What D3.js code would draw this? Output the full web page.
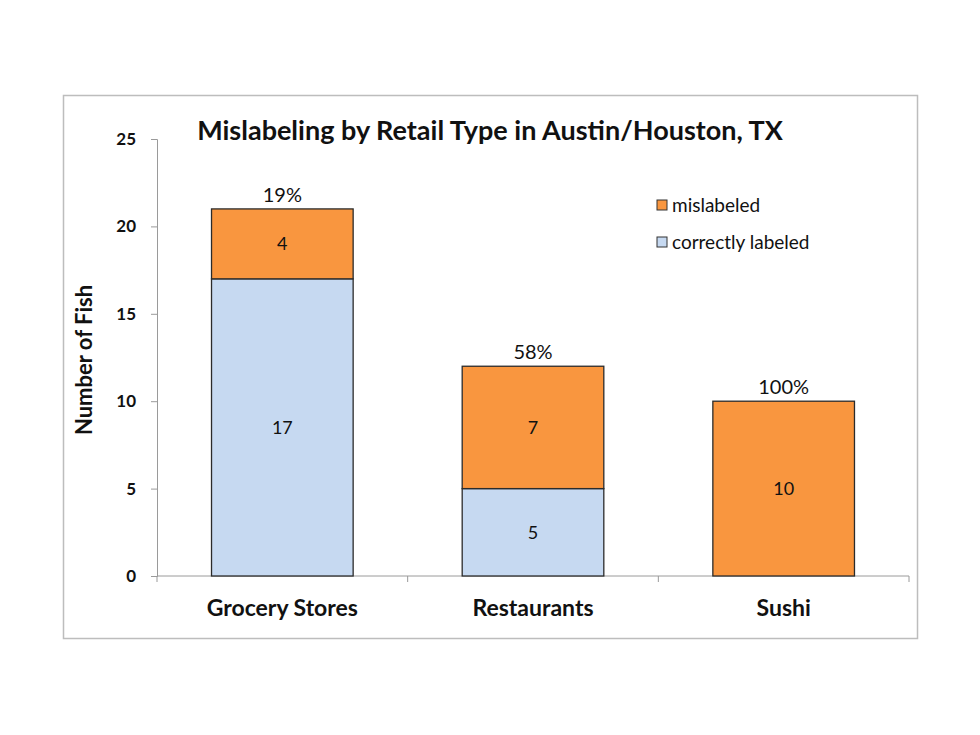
<!DOCTYPE html>
<html>
<head>
<meta charset="utf-8">
<script src="https://cdn.jsdelivr.net/npm/d3@7"></script>
<style>
  body { margin: 0; background: #fff; }
  svg { font-family: Lato, "Open Sans", sans-serif; }
</style>
</head>
<body>
<svg width="980" height="735"></svg>
<script>
var categories = ["Grocery Stores", "Restaurants", "Sushi"];
var correctlyLabeled = [17, 5, 0];
var mislabeled = [4, 7, 10];
var percentLabels = ["19%", "58%", "100%"];
var yTicks = [0, 5, 10, 15, 20, 25];

var svg = d3.select("svg");

// outer chart frame
svg.append("rect")
    .attr("x", 63.5).attr("y", 95.5)
    .attr("width", 854).attr("height", 543)
    .attr("fill", "#fff")
    .attr("stroke", "#bdbdbd")
    .attr("stroke-width", 1.5);

var margin = {top: 139, left: 157, right: 909, bottom: 576};

var x = d3.scaleBand()
    .domain(categories)
    .range([margin.left, margin.right])
    .paddingInner(0.435)
    .paddingOuter(0.2175);

var y = d3.scaleLinear().domain([0, 25]).range([margin.bottom, margin.top]);

var data = categories.map(function(c, i) {
  return {cat: c, correct: correctlyLabeled[i], mis: mislabeled[i], pct: percentLabels[i]};
});

// y axis
var yAxis = svg.append("g")
    .attr("transform", "translate(" + margin.left + ",0)")
    .call(d3.axisLeft(y).tickValues(yTicks).tickSize(6).tickPadding(15))
    .attr("font-family", null);
yAxis.select(".domain").attr("stroke", "#9a9a9a");
yAxis.selectAll(".tick line").attr("stroke", "#9a9a9a");
yAxis.selectAll("text")
    .style("font-size", "17px").style("font-weight", "bold").attr("fill", "#111");

// x axis with ticks between categories
var xAxisG = svg.append("g");
xAxisG.append("line")
    .attr("x1", margin.left).attr("x2", margin.right)
    .attr("y1", y(0)).attr("y2", y(0))
    .attr("stroke", "#9a9a9a");
var bounds = d3.range(categories.length + 1).map(function(i) { return margin.left + i * (margin.right - margin.left) / categories.length; });
xAxisG.selectAll(".xt").data(bounds).enter().append("line")
    .attr("x1", function(d) { return d; }).attr("x2", function(d) { return d; })
    .attr("y1", y(0)).attr("y2", y(0) + 6)
    .attr("stroke", "#9a9a9a");
xAxisG.selectAll(".xl").data(categories).enter().append("text")
    .attr("x", function(d) { return x(d) + x.bandwidth() / 2; })
    .attr("y", 616)
    .attr("text-anchor", "middle")
    .style("font-size", "23px").style("font-weight", "bold")
    .attr("fill", "#111")
    .text(function(d) { return d; });

// bars
var bars = svg.append("g");
bars.selectAll(".correct").data(data.filter(function(d) { return d.correct > 0; })).enter().append("rect")
    .attr("x", function(d) { return x(d.cat); })
    .attr("y", function(d) { return y(d.correct); })
    .attr("width", x.bandwidth())
    .attr("height", function(d) { return y(0) - y(d.correct); })
    .attr("fill", "#c6d9f1")
    .attr("stroke", "#2b2b2b").attr("stroke-width", 1.3);

bars.selectAll(".mis").data(data).enter().append("rect")
    .attr("x", function(d) { return x(d.cat); })
    .attr("y", function(d) { return y(d.correct + d.mis); })
    .attr("width", x.bandwidth())
    .attr("height", function(d) { return y(d.correct) - y(d.correct + d.mis); })
    .attr("fill", "#f9963f")
    .attr("stroke", "#2b2b2b").attr("stroke-width", 1.3);

// value labels
var labels = svg.append("g").style("font-size", "18px").attr("fill", "#111").attr("text-anchor", "middle");
labels.selectAll(".lc").data(data.filter(function(d) { return d.correct > 0; })).enter().append("text")
    .attr("x", function(d) { return x(d.cat) + x.bandwidth() / 2; })
    .attr("y", function(d) { return y(d.correct / 2); })
    .attr("dy", "0.35em")
    .text(function(d) { return d.correct; });
labels.selectAll(".lm").data(data).enter().append("text")
    .attr("x", function(d) { return x(d.cat) + x.bandwidth() / 2; })
    .attr("y", function(d) { return y(d.correct + d.mis / 2); })
    .attr("dy", "0.35em")
    .text(function(d) { return d.mis; });
labels.selectAll(".lp").data(data).enter().append("text")
    .attr("x", function(d) { return x(d.cat) + x.bandwidth() / 2; })
    .attr("y", function(d) { return y(d.correct + d.mis) - 7; })
    .style("font-size", "20px")
    .text(function(d) { return d.pct; });

// title
svg.append("text")
    .attr("x", 490).attr("y", 140)
    .attr("text-anchor", "middle")
    .style("font-size", "27px").style("font-weight", "bold")
    .attr("fill", "#111")
    .text("Mislabeling by Retail Type in Austin/Houston, TX");

// y axis label
svg.append("text")
    .attr("transform", "translate(92,360) rotate(-90)")
    .attr("text-anchor", "middle")
    .style("font-size", "22px").style("font-weight", "bold")
    .attr("fill", "#111")
    .text("Number of Fish");

// legend
var legendItems = [{name: "mislabeled", color: "#f9963f"}, {name: "correctly labeled", color: "#c6d9f1"}];
var legend = svg.append("g").selectAll("g").data(legendItems).enter().append("g")
    .attr("transform", function(d, i) { return "translate(657," + (205 + i * 37) + ")"; });
legend.append("rect")
    .attr("x", 0).attr("y", -5).attr("width", 10).attr("height", 10)
    .attr("fill", function(d) { return d.color; })
    .attr("stroke", "#333").attr("stroke-width", 1);
legend.append("text")
    .attr("x", 15).attr("dy", "0.35em")
    .style("font-size", "19px").attr("fill", "#111")
    .text(function(d) { return d.name; });
</script>
</body>
</html>
